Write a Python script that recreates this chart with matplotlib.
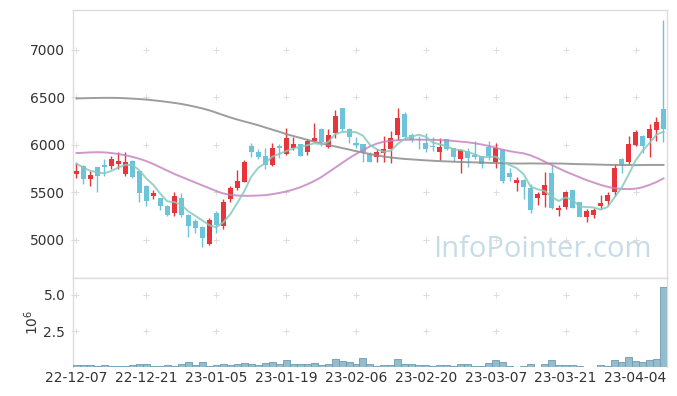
import numpy as np
import pandas as pd
import matplotlib
matplotlib.use('Agg')
from matplotlib import pyplot as plt

# daily candles, 22-12-07 .. 23-04-10 (trading days)
opens = [5698, 5779, 5646, 5765, 5793, 5782, 5804, 5698, 5832, 5726,
         5568, 5460, 5439, 5355, 5288, 5442, 5263, 5200, 5140, 4961,
         5288, 5147, 5428, 5551, 5614, 5993, 5930, 5884, 5793, 5986,
         5909, 5972, 6007, 5930, 6046, 6168, 5977, 6123, 6386, 6168,
         6021, 6007, 5902, 5870, 5919, 5953, 6109, 6326, 6102, 6063,
         6021, 5993, 5930, 6060, 5965, 5856, 5937, 5895, 5884, 5976,
         5821, 5951, 5709, 5600, 5632, 5551, 5446, 5477, 5702, 5316,
         5351, 5526, 5397, 5246, 5263, 5358, 5411, 5509, 5853, 5818,
         6000, 6095, 6077, 6158, 6379]
highs = [5814, 5785, 5726, 5770, 5849, 5888, 5930, 5923, 5840, 5730,
         5575, 5523, 5445, 5368, 5502, 5492, 5270, 5221, 5145, 5228,
         5300, 5428, 5572, 5737, 5842, 6018, 5958, 5972, 6025, 6007,
         6179, 6088, 6014, 6060, 6235, 6175, 6168, 6372, 6390, 6175,
         6088, 6010, 5930, 5955, 6095, 6144, 6386, 6347, 6123, 6098,
         6123, 6084, 6070, 6065, 5968, 5947, 5965, 6046, 5888, 6042,
         6025, 5958, 5754, 5660, 5640, 5590, 5502, 5719, 5789, 5368,
         5516, 5530, 5400, 5323, 5340, 5474, 5502, 5797, 5858, 6098,
         6158, 6100, 6218, 6291, 7316]
lows = [5650, 5590, 5568, 5509, 5674, 5744, 5751, 5674, 5650, 5400,
        5361, 5435, 5316, 5250, 5249, 5239, 5028, 5077, 4930, 4944,
        5070, 5119, 5397, 5526, 5607, 5870, 5849, 5747, 5782, 5867,
        5895, 5947, 5880, 5891, 6046, 5993, 5968, 6077, 6140, 6018,
        5972, 5825, 5820, 5818, 5818, 5807, 6053, 6053, 6028, 5958,
        5926, 5940, 5842, 5950, 5835, 5702, 5772, 5856, 5754, 5842,
        5754, 5600, 5625, 5519, 5435, 5281, 5368, 5344, 5330, 5253,
        5330, 5335, 5240, 5193, 5235, 5323, 5368, 5467, 5702, 5800,
        5990, 5912, 5870, 6042, 6035]
closes = [5726, 5646, 5688, 5677, 5772, 5853, 5828, 5825, 5667, 5498,
          5414, 5498, 5355, 5267, 5463, 5267, 5151, 5126, 5024, 5211,
          5158, 5404, 5551, 5621, 5821, 5930, 5874, 5789, 5965, 5972,
          6074, 6011, 5888, 6039, 6077, 6032, 6105, 6309, 6165, 6088,
          6004, 5923, 5825, 5930, 5958, 6070, 6284, 6081, 6053, 6053,
          5961, 5982, 5979, 5961, 5870, 5947, 5863, 5877, 5797, 5884,
          5968, 5625, 5667, 5635, 5561, 5316, 5488, 5579, 5333, 5337,
          5505, 5340, 5246, 5305, 5316, 5393, 5474, 5760, 5800, 6007,
          6137, 5990, 6168, 6242, 6165]
volumes = [115e3, 115e3, 115e3, 45e3, 115e3, 45e3, 45e3, 45e3, 115e3, 185e3,
           185e3, 45e3, 45e3, 115e3, 45e3, 230e3, 325e3, 115e3, 325e3, 45e3,
           115e3, 185e3, 115e3, 185e3, 255e3, 185e3, 115e3, 255e3, 325e3, 185e3,
           465e3, 185e3, 185e3, 185e3, 255e3, 115e3, 185e3, 530e3, 395e3, 325e3,
           185e3, 650e3, 220e3, 90e3, 160e3, 160e3, 580e3, 230e3, 230e3, 115e3,
           160e3, 90e3, 160e3, 115e3, 45e3, 230e3, 230e3, 90e3, 90e3, 300e3,
           510e3, 370e3, 90e3, 25e3, 90e3, 230e3, 25e3, 230e3, 510e3, 160e3,
           160e3, 160e3, 90e3, 25e3, 25e3, 160e3, 90e3, 510e3, 370e3, 670e3,
           440e3, 370e3, 510e3, 580e3, 5550e3]

# 5-day MA: first 4 points come from history before the window
ma5_head = [5805, 5760, 5728, 5712]
# 20-day and 60-day MA
ma20 = [5915, 5918, 5922, 5924, 5922, 5915, 5905, 5892, 5875, 5855,
        5830, 5800, 5765, 5730, 5695, 5665, 5635, 5605, 5575, 5545,
        5515, 5490, 5475, 5468, 5465, 5465, 5468, 5472, 5482, 5495,
        5510, 5530, 5555, 5585, 5620, 5660, 5710, 5760, 5810, 5860,
        5905, 5945, 5985, 6015, 6035, 6045, 6050, 6055, 6056, 6056,
        6055, 6054, 6052, 6048, 6042, 6035, 6028, 6018, 6005, 5990,
        5972, 5950, 5935, 5922, 5912, 5890, 5860, 5825, 5790, 5755,
        5720, 5690, 5660, 5630, 5605, 5580, 5560, 5545, 5538, 5535,
        5540, 5555, 5580, 5610, 5648]
ma60 = [6490, 6492, 6494, 6495, 6496, 6496, 6495, 6492, 6488, 6483,
        6478, 6470, 6462, 6453, 6443, 6432, 6418, 6402, 6385, 6365,
        6340, 6315, 6290, 6268, 6248, 6228, 6208, 6185, 6162, 6140,
        6115, 6095, 6075, 6055, 6035, 6018, 6000, 5985, 5968, 5952,
        5935, 5920, 5905, 5890, 5878, 5868, 5860, 5853, 5848, 5843,
        5838, 5834, 5830, 5827, 5824, 5821, 5819, 5817, 5815, 5812,
        5810, 5808, 5806, 5805, 5805, 5806, 5805, 5804, 5806, 5805,
        5803, 5800, 5798, 5797, 5795, 5793, 5791, 5790, 5789, 5789,
        5788, 5789, 5790, 5790, 5790]

tick_labels = ['22-12-07', '22-12-21', '23-01-05', '23-01-19', '23-02-06',
               '23-02-20', '23-03-07', '23-03-21', '23-04-04']

n = len(closes)
x = np.arange(n)
ma5 = pd.Series(closes, dtype=float).rolling(5).mean().values
ma5[:4] = ma5_head

up_col = '#e8353b'
down_col = '#6cc3da'
frame_col = '#dcdcdc'
txt_col = '#333333'

fig = plt.figure(figsize=(6.77, 3.96), dpi=100)
ax = fig.add_axes([0.1078, 0.298, 0.8774, 0.6768])
ax2 = fig.add_axes([0.1078, 0.0732, 0.8774, 0.2248])

o = np.array(opens)
c = np.array(closes)
colors = [up_col if cc >= oo else down_col for oo, cc in zip(o, c)]
ax.vlines(x, lows, highs, colors=colors, linewidth=1.0, zorder=2)
body_bot = np.minimum(o, c)
body_h = np.maximum(np.abs(c - o), 12)
ax.bar(x, body_h, bottom=body_bot, width=0.72, color=colors, linewidth=0, zorder=3)

ax.plot(x, ma60, color='#8c8c8c', lw=1.4, alpha=0.85, zorder=4)
ax.plot(x, ma20, color='#c47fbd', lw=1.4, alpha=0.8, zorder=4)
ax.plot(x, ma5, color='#86c9bd', lw=1.4, alpha=0.85, zorder=4)

ax2.bar(x, np.array(volumes) / 1e6, width=1.0, color='#95bccd',
        edgecolor='#6d9bb2', linewidth=0.6, zorder=3)

xt = np.arange(0, 81, 10)
yt = [5000, 5500, 6000, 6500, 7000]
vt = [2.5, 5.0]

gx, gy = np.meshgrid(xt, yt)
ax.scatter(gx.ravel(), gy.ravel(), marker='+', s=14, color='#dcdcdc', linewidths=0.7, zorder=1)
gx, gy = np.meshgrid(xt, vt)
ax2.scatter(gx.ravel(), gy.ravel(), marker='+', s=14, color='#dcdcdc', linewidths=0.7, zorder=1)

ax.set_xlim(-0.5, n - 0.5)
ax2.set_xlim(-0.5, n - 0.5)
ax.set_ylim(4600, 7421)
ax2.set_ylim(0, 6.18)

ax.set_yticks(yt)
ax.set_yticklabels([str(v) for v in yt])
ax.set_xticks([])
ax2.set_yticks(vt)
ax2.set_yticklabels(['2.5', '5.0'])
ax2.set_xticks(xt)
ax2.set_xticklabels(tick_labels)

for a in (ax, ax2):
    for s in a.spines.values():
        s.set_color(frame_col)
        s.set_linewidth(1.0)
    a.tick_params(axis='both', colors=frame_col, labelcolor=txt_col,
                  labelsize=10, length=3, direction='inout', pad=4)
ax2.spines['bottom'].set_visible(False)
ax2.tick_params(axis='x', length=0, pad=3)

ax2.set_ylabel(r'$10^6$', color=txt_col, fontsize=10, labelpad=2)

ax.text(0.79, 0.105, 'InfoPointer.com', transform=ax.transAxes, ha='center', va='center',
        fontsize=21, color='#c6dce7', family='Open Sans', zorder=0)

fig.savefig('out.png', dpi=100, facecolor='white')
